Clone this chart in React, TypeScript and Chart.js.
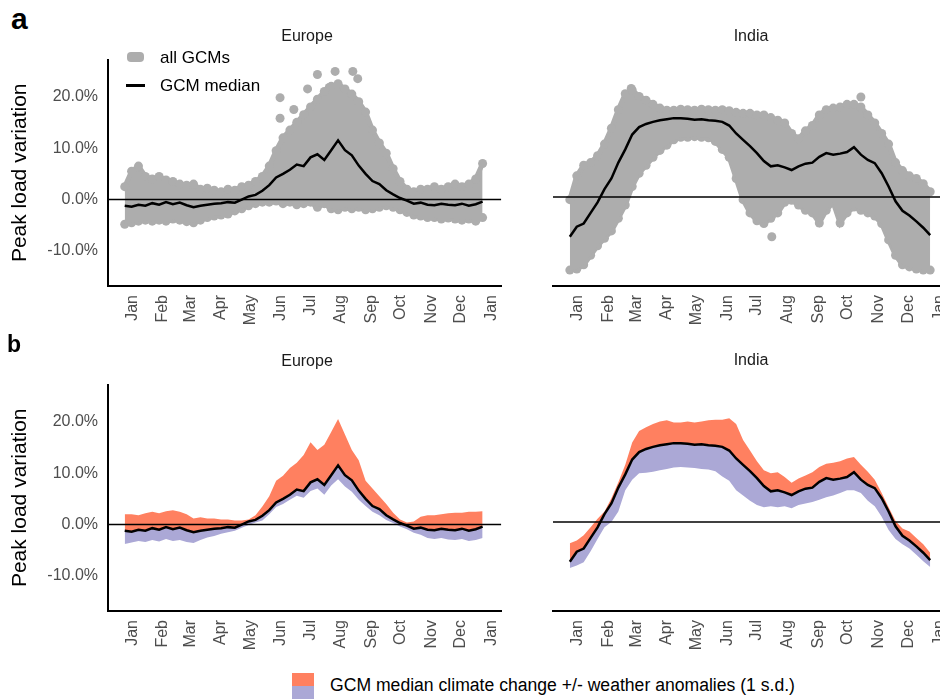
import React, { useEffect, useRef } from "react";
import { Chart, registerables } from "chart.js";
Chart.register(...registerables);

const FONT = "'Liberation Sans', Arial, Helvetica, sans-serif";

const DAYS = [0,7,14,21,28,35,42,49,56,63,70,77,84,91,98,105,112,119,126,133,140,147,154,161,168,175,182,189,196,203,210,217,224,231,238,245,252,259,266,273,280,287,294,301,308,315,322,329,336,343,350,357,364];
const MONTH_LABELS = ["Jan","Feb","Mar","Apr","May","Jun","Jul","Aug","Sep","Oct","Nov","Dec","Jan"];
const MONTH_TICKS = [8,39,67,98,128,159,189,220,251,281,312,342,373];
const Y_TICKS = [-10,0,10,20];

// Panel a – Europe
const EU_MEDIAN = [-1.2,-1.4,-1.0,-1.2,-0.7,-1.0,-0.5,-0.9,-0.6,-1.1,-1.5,-1.2,-1.0,-0.8,-0.7,-0.5,-0.6,0.0,0.6,0.9,1.7,2.8,4.3,5.0,5.8,6.8,6.5,8.2,8.8,7.7,9.6,11.5,9.6,8.6,6.6,5.0,3.6,3.0,1.8,1.0,0.3,-0.2,-0.8,-0.6,-1.0,-1.1,-0.8,-1.0,-1.1,-0.8,-1.2,-0.9,-0.4];
const EU_UPPER = [2.5,5.5,6.5,4.5,4.0,4.5,3.8,3.5,3.0,2.8,3.0,2.0,2.2,1.8,1.5,2.0,1.8,2.5,2.8,3.5,4.5,6.5,9.5,12.0,13.5,15.0,16.5,18.0,19.5,21.0,22.0,22.5,21.5,20.5,19.0,17.0,13.5,11.0,9.0,6.0,3.5,2.0,1.5,2.0,2.0,2.5,2.0,2.5,3.0,2.5,3.0,4.0,7.0];
const EU_LOWER = [-4.8,-4.5,-4.2,-4.0,-4.2,-4.0,-4.2,-3.8,-4.0,-4.3,-4.5,-4.0,-3.5,-3.2,-3.0,-2.8,-2.2,-1.8,-1.2,-0.8,-0.5,-0.5,-0.3,-0.8,-0.5,-1.0,-0.8,-0.5,-1.5,-0.8,-1.8,-2.0,-1.5,-1.8,-1.5,-2.0,-1.8,-1.5,-1.2,-1.5,-2.0,-2.5,-3.0,-3.2,-3.5,-3.5,-3.8,-3.6,-3.8,-4.0,-3.8,-4.2,-3.5];
const EU_OUT_X = [158,158,172,186,196,208,214,232,237];
const EU_OUT_Y = [19.8,15.8,17.5,21.5,24.3,21.8,24.9,24.9,23.5];

// Panel a – India
const IN_MEDIAN = [-7.5,-5.6,-5.0,-3.0,-1.0,1.5,3.5,6.5,9.0,11.8,13.2,13.8,14.2,14.5,14.7,14.9,14.9,14.8,14.6,14.7,14.5,14.4,14.2,13.5,12.0,10.8,9.6,8.3,6.8,5.8,6.0,5.6,5.1,5.8,6.3,6.5,7.6,8.3,8.0,8.2,8.5,9.4,8.0,7.0,6.4,4.5,2.0,-0.8,-2.6,-3.5,-4.6,-5.8,-7.2];
const IN_UPPER = [-0.5,4.0,6.0,6.5,7.8,10.0,13.0,16.5,19.5,20.2,19.0,18.3,17.5,16.8,16.4,16.4,16.6,16.5,16.4,16.6,16.5,16.4,16.5,16.3,16.0,15.8,15.8,15.5,15.5,15.0,14.5,14.0,12.0,11.0,12.5,13.5,15.5,16.5,16.8,17.0,17.5,17.5,17.0,15.5,14.0,12.0,10.0,6.5,5.0,4.0,3.5,2.5,1.0];
const IN_LOWER = [-13.8,-13.6,-12.8,-11.0,-9.2,-7.8,-6.4,-4.0,-1.5,2.0,4.5,6.0,7.5,8.8,9.8,10.8,11.3,11.3,11.4,11.3,11.2,10.5,9.0,7.5,3.5,-0.5,-3.0,-4.5,-5.0,-4.0,-3.0,-1.0,-0.6,-1.5,-2.5,-3.0,-4.9,-2.5,-1.0,-4.9,-3.0,-1.9,-2.5,-3.0,-3.6,-5.0,-8.1,-11.0,-12.8,-13.2,-13.6,-13.8,-13.8];
const IN_OUT_X = [62,204,294];
const IN_OUT_Y = [20.5,-7.5,18.9];

// Panel b – climate change +/- weather anomalies (1 s.d.)
const EUB_TOP = [2.0,2.0,1.8,2.2,2.5,2.2,2.6,2.8,2.5,2.0,1.2,1.4,1.2,1.2,1.0,1.0,0.8,0.8,1.0,1.8,3.5,5.5,8.5,9.5,11.0,12.0,13.5,16.0,14.5,15.5,18.0,20.5,17.5,14.5,12.5,8.5,7.0,5.5,4.0,2.3,1.0,0.4,0.6,1.5,1.8,1.8,2.0,2.2,2.3,2.3,2.5,2.5,2.6];
const EUB_BOTTOM = [-3.8,-3.5,-3.2,-3.4,-3.0,-3.3,-2.8,-3.2,-3.0,-3.4,-3.6,-3.0,-2.5,-2.2,-1.8,-1.5,-1.2,-0.6,-0.1,0.4,0.8,2.0,3.4,4.0,4.8,5.6,5.2,6.5,7.0,5.8,7.6,8.8,7.4,6.4,4.8,3.6,2.5,1.8,0.9,0.3,-0.4,-0.9,-1.6,-2.0,-2.6,-2.8,-2.6,-2.9,-3.0,-2.8,-3.2,-3.0,-2.6];
const INB_TOP = [-4.0,-3.5,-2.5,-1.0,0.6,2.0,4.5,7.5,10.8,15.0,17.2,17.9,18.5,19.0,19.2,18.8,18.8,19.0,18.8,19.0,19.2,19.3,19.3,19.6,18.5,15.5,13.5,11.5,9.8,9.2,9.4,8.5,7.4,8.2,8.8,9.4,10.4,11.0,11.2,11.5,12.0,12.3,10.8,9.5,8.0,5.5,2.8,0.2,-1.2,-1.8,-3.0,-4.2,-5.8];
const INB_BOTTOM = [-8.7,-8.2,-7.6,-5.5,-3.2,-1.0,0.0,2.0,6.0,8.0,9.2,9.3,9.5,9.8,10.0,10.3,10.4,10.3,10.2,10.0,9.9,9.6,8.6,7.8,6.0,5.0,4.0,3.2,2.8,3.0,2.8,3.0,2.6,3.2,3.5,3.8,4.2,4.7,5.0,5.5,6.0,6.0,5.5,4.0,3.0,1.0,-1.5,-3.2,-4.2,-5.0,-6.2,-7.4,-8.5];

const X_MIN = -17;
const X_MAX = 383;
const Y_MIN = -16.8;
const Y_MAX = 27.2;

const GRAY = "#ADADAD";
const ORANGE = "#FF8060";
const PURPLE = "#ABA8D6";

const pts = (xs: number[], ys: number[]) => xs.map((x, i) => ({ x, y: ys[i] }));

function baseOptions(showY: boolean, padLeft: number, padRight: number): any {
  return {
    animation: false,
    responsive: false,
    maintainAspectRatio: false,
    layout: { autoPadding: false, padding: { top: 13, left: padLeft, right: padRight, bottom: 0 } },
    plugins: { legend: { display: false }, tooltip: { enabled: false } },
    elements: { line: { tension: 0 } },
    scales: {
      x: {
        type: "linear",
        min: X_MIN,
        max: X_MAX,
        afterBuildTicks: (s: any) => {
          s.ticks = MONTH_TICKS.map((v) => ({ value: v }));
        },
        afterFit: (s: any) => {
          s.height = 60;
        },
        ticks: {
          autoSkip: false,
          minRotation: 90,
          maxRotation: 90,
          padding: 9,
          color: "#4D4D4D",
          font: { family: FONT, size: 16 },
          callback: (_v: any, i: number) => MONTH_LABELS[i],
        },
        grid: { display: false, drawTicks: false },
        border: { display: true, color: "#000", width: 2 },
      },
      y: {
        type: "linear",
        display: showY,
        min: Y_MIN,
        max: Y_MAX,
        afterBuildTicks: (s: any) => {
          s.ticks = Y_TICKS.map((v) => ({ value: v }));
        },
        afterFit: (s: any) => {
          s.width = showY ? 108 : 0;
        },
        ticks: {
          padding: 10,
          color: "#4D4D4D",
          font: { family: FONT, size: 16 },
          callback: (v: any) => Number(v).toFixed(1) + "%",
        },
        grid: { display: false, drawTicks: false },
        border: { display: true, color: "#000", width: 2 },
        title: {
          display: true,
          text: "Peak load variation",
          color: "#000",
          font: { family: FONT, size: 21 },
          padding: { top: 8, bottom: 0 },
        },
      },
    },
  };
}

function zeroLine(): any {
  return {
    data: [{ x: X_MIN, y: 0 }, { x: X_MAX, y: 0 }],
    borderColor: "#000",
    borderWidth: 1.5,
    pointRadius: 0,
    fill: false,
    order: 1,
  };
}

function medianLine(ys: number[]): any {
  return {
    data: pts(DAYS, ys),
    borderColor: "#000",
    borderWidth: 2.5,
    pointRadius: 0,
    fill: false,
    order: 0,
  };
}

function cloudConfig(median: number[], upper: number[], lower: number[], ox: number[], oy: number[], showY: boolean, padL: number, padR: number): any {
  return {
    type: "line",
    data: {
      datasets: [
        medianLine(median),
        zeroLine(),
        {
          data: pts(DAYS, upper),
          borderColor: GRAY,
          borderWidth: 5,
          backgroundColor: GRAY,
          pointRadius: 4.5,
          pointBorderWidth: 0,
          pointBackgroundColor: GRAY,
          fill: 3,
          order: 2,
        },
        {
          data: pts(DAYS, lower),
          borderColor: GRAY,
          borderWidth: 5,
          backgroundColor: GRAY,
          pointRadius: 4.5,
          pointBorderWidth: 0,
          pointBackgroundColor: GRAY,
          fill: false,
          order: 2,
        },
        {
          data: pts(ox, oy),
          showLine: false,
          pointRadius: 4.5,
          pointBorderWidth: 0,
          pointBackgroundColor: GRAY,
          borderColor: GRAY,
          fill: false,
          order: 2,
        },
      ],
    },
    options: baseOptions(showY, padL, padR),
  };
}

function bandConfig(median: number[], top: number[], bottom: number[], showY: boolean, padL: number, padR: number): any {
  return {
    type: "line",
    data: {
      datasets: [
        medianLine(median),
        zeroLine(),
        {
          data: pts(DAYS, top),
          borderWidth: 0,
          borderColor: ORANGE,
          backgroundColor: ORANGE,
          pointRadius: 0,
          fill: 4,
          order: 3,
        },
        {
          data: pts(DAYS, bottom),
          borderWidth: 0,
          borderColor: PURPLE,
          backgroundColor: PURPLE,
          pointRadius: 0,
          fill: 4,
          order: 3,
        },
        {
          data: pts(DAYS, median),
          borderWidth: 0,
          borderColor: "rgba(0,0,0,0)",
          pointRadius: 0,
          fill: false,
          order: 4,
        },
      ],
    },
    options: baseOptions(showY, padL, padR),
  };
}

const CANVAS_H = 306;

function Panel({ left, top, width, config }: { left: number; top: number; width: number; config: () => any }) {
  const ref = useRef<HTMLCanvasElement>(null);
  useEffect(() => {
    const chart = new Chart(ref.current as HTMLCanvasElement, config());
    return () => chart.destroy();
  }, []);
  return (
    <canvas
      ref={ref}
      width={width}
      height={CANVAS_H}
      style={{ position: "absolute", left, top, width, height: CANVAS_H }}
    />
  );
}

const txt = (extra: React.CSSProperties): React.CSSProperties => ({
  position: "absolute",
  fontFamily: FONT,
  whiteSpace: "nowrap",
  lineHeight: 1,
  ...extra,
});

export default function App() {
  return (
    <div
      style={{
        position: "absolute",
        left: 0,
        top: 0,
        width: 940,
        height: 699,
        overflow: "hidden",
        background: "#fff",
        fontFamily: FONT,
      }}
    >
      <Panel left={0} top={40} width={520} config={() => cloudConfig(EU_MEDIAN, EU_UPPER, EU_LOWER, EU_OUT_X, EU_OUT_Y, true, 0, 14)} />
      <Panel left={540} top={40} width={430} config={() => cloudConfig(IN_MEDIAN, IN_UPPER, IN_LOWER, IN_OUT_X, IN_OUT_Y, false, 13, 21)} />
      <Panel left={0} top={365} width={520} config={() => bandConfig(EU_MEDIAN, EUB_TOP, EUB_BOTTOM, true, 0, 14)} />
      <Panel left={540} top={365} width={430} config={() => bandConfig(IN_MEDIAN, INB_TOP, INB_BOTTOM, false, 13, 21)} />

      <div style={txt({ left: 11, top: 4, fontSize: 30, fontWeight: "bold", color: "#000" })}>a</div>
      <div style={txt({ left: 7, top: 333, fontSize: 23, fontWeight: "bold", color: "#000" })}>b</div>

      <div style={txt({ left: 207, width: 200, top: 28, fontSize: 16, color: "#1A1A1A", textAlign: "center" })}>Europe</div>
      <div style={txt({ left: 651, width: 200, top: 28, fontSize: 16, color: "#1A1A1A", textAlign: "center" })}>India</div>
      <div style={txt({ left: 207, width: 200, top: 353, fontSize: 16, color: "#1A1A1A", textAlign: "center" })}>Europe</div>
      <div style={txt({ left: 651, width: 200, top: 352, fontSize: 16, color: "#1A1A1A", textAlign: "center" })}>India</div>

      <div style={{ position: "absolute", left: 127, top: 52, width: 17, height: 10, background: GRAY, borderRadius: 4 }} />
      <div style={txt({ left: 160, top: 49, fontSize: 17, color: "#000" })}>all GCMs</div>
      <div style={{ position: "absolute", left: 126, top: 84, width: 19, height: 3, background: "#000" }} />
      <div style={txt({ left: 160, top: 77, fontSize: 17, color: "#000" })}>GCM median</div>

      <div style={{ position: "absolute", left: 292, top: 673, width: 22, height: 13, background: ORANGE }} />
      <div style={{ position: "absolute", left: 292, top: 686, width: 22, height: 13, background: PURPLE }} />
      <div style={txt({ left: 330, top: 677, fontSize: 17.6, color: "#000" })}>GCM median climate change +/- weather anomalies (1 s.d.)</div>
    </div>
  );
}
